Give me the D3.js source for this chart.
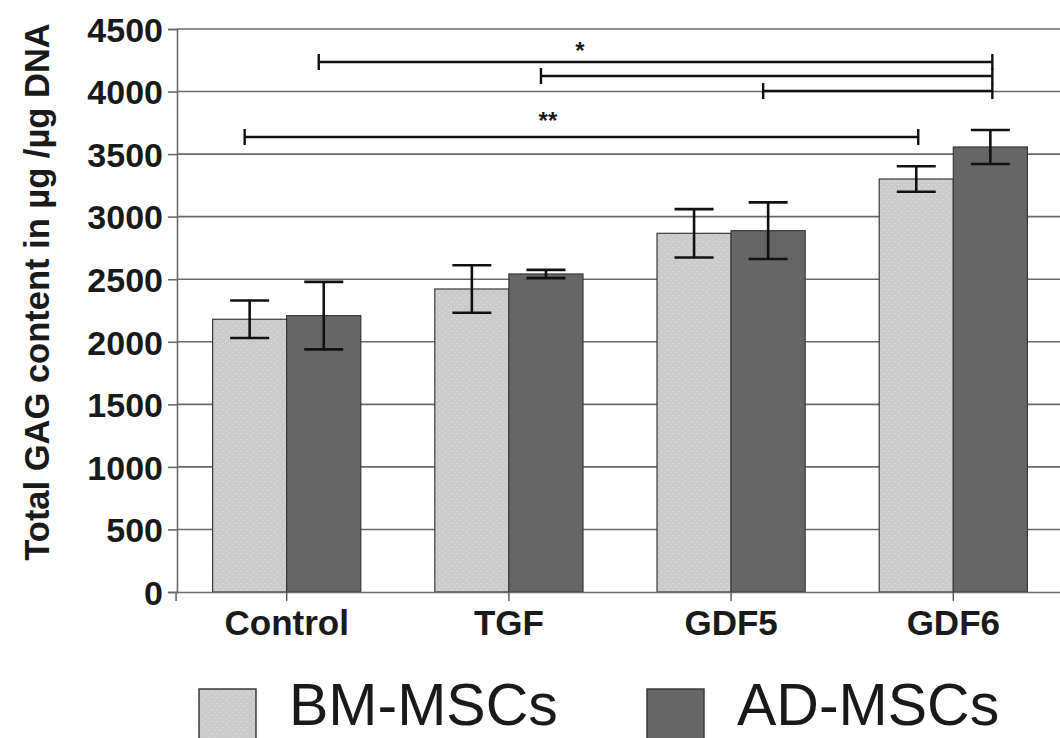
<!DOCTYPE html>
<html>
<head>
<meta charset="utf-8">
<script src="https://cdn.jsdelivr.net/npm/d3@7"></script>
<style>
  body { margin: 0; background: #fff; }
  svg { display: block; font-family: "Liberation Sans", Arial, sans-serif; }
</style>
</head>
<body>
<svg id="chart" width="1060" height="738"></svg>
<script>
// data
const categories = ["Control", "TGF", "GDF5", "GDF6"];
const seriesNames = ["BM-MSCs", "AD-MSCs"];
const bmMeans = [2180, 2422, 2867, 3301];
const bmErrors = [150, 190, 193, 102];
const adMeans = [2209, 2542, 2888, 3557];
const adErrors = [270, 33, 226, 136];
const yTicks = [0, 500, 1000, 1500, 2000, 2500, 3000, 3500, 4000, 4500];

// significance brackets: from [category, series] to [category, series] at a y value
const brackets = [
    { from: ["Control", "AD-MSCs"], to: ["GDF6", "AD-MSCs"], y: 4236 },
    { from: ["TGF", "AD-MSCs"], to: ["GDF6", "AD-MSCs"], y: 4124 },
    { from: ["GDF5", "AD-MSCs"], to: ["GDF6", "AD-MSCs"], y: 4004 },
    { from: ["Control", "BM-MSCs"], to: ["GDF6", "BM-MSCs"], y: 3637 }
];
const stars = [
    { label: "*", at: "TGF", dx: 34, y: 4310 },
    { label: "**", at: "TGF", dx: 2, y: 3750 }
];

const colors = { "BM-MSCs": "#cbcbcb", "AD-MSCs": "#666666" };

const svg = d3.select("#chart");

// stippled fill for the light bars
const defs = svg.append("defs");
const pat = defs.append("pattern")
    .attr("id", "stipple")
    .attr("patternUnits", "userSpaceOnUse")
    .attr("width", 6).attr("height", 6);
pat.append("rect").attr("width", 6).attr("height", 6).attr("fill", colors["BM-MSCs"]);
pat.append("circle").attr("cx", 1.5).attr("cy", 1.5).attr("r", 0.6).attr("fill", "#e6e6e6");
pat.append("circle").attr("cx", 4.5).attr("cy", 4.5).attr("r", 0.6).attr("fill", "#e2e2e2");

const fillFor = s => s === "BM-MSCs" ? "url(#stipple)" : colors[s];

const x0 = d3.scaleBand().domain(categories).range([175.6, 1064.4]).padding(0);
const x1 = d3.scaleBand().domain(seriesNames).range([37, x0.bandwidth() - 37]).padding(0);
const y = d3.scaleLinear().domain([0, 4500]).range([592, 29]);

const cx = (cat, s) => x0(cat) + x1(s) + x1.bandwidth() / 2;

// gridlines
svg.append("g")
    .selectAll("line")
    .data(yTicks.filter(d => d > 0))
    .join("line")
    .attr("x1", 177).attr("x2", 1060)
    .attr("y1", d => y(d)).attr("y2", d => y(d))
    .attr("stroke", "#6a6a6a").attr("stroke-width", 1.6);

// y axis
const yAxis = svg.append("g")
    .attr("transform", "translate(177,0)")
    .call(d3.axisLeft(y).tickValues(yTicks).tickSize(9).tickPadding(5).tickFormat(d3.format("d")));
yAxis.select(".domain").attr("stroke", "#6a6a6a").attr("stroke-width", 1.6);
yAxis.selectAll(".tick line").attr("stroke", "#6a6a6a").attr("stroke-width", 1.6);
yAxis.selectAll(".tick text")
    .attr("fill", "#1a1a1a")
    .style("font-size", "34px").style("font-weight", "bold")
    .attr("dy", "0.36em");

// bars
const rows = categories.map((c, i) => [
    { cat: c, s: "BM-MSCs", v: bmMeans[i], e: bmErrors[i] },
    { cat: c, s: "AD-MSCs", v: adMeans[i], e: adErrors[i] }
]).flat();

svg.append("g")
    .selectAll("rect")
    .data(rows)
    .join("rect")
    .attr("x", d => x0(d.cat) + x1(d.s))
    .attr("y", d => y(d.v))
    .attr("width", x1.bandwidth())
    .attr("height", d => y(0) - y(d.v))
    .attr("fill", d => fillFor(d.s))
    .attr("stroke", "#3a3a3a").attr("stroke-width", 1.2);

// x axis
const xAxis = svg.append("g")
    .attr("transform", "translate(0,592)")
    .call(d3.axisBottom(x0).tickSize(9).tickPadding(9));
xAxis.select(".domain").attr("stroke", "#6a6a6a").attr("stroke-width", 1.6);
xAxis.selectAll(".tick line").attr("stroke", "#555").attr("stroke-width", 1.4);
xAxis.selectAll(".tick text")
    .attr("fill", "#1a1a1a")
    .style("font-size", "35px").style("font-weight", "bold");

// error bars
const capW = 39;
const err = svg.append("g").attr("stroke", "#111").attr("stroke-width", 2.6);
rows.forEach(d => {
    const c = cx(d.cat, d.s);
    err.append("line").attr("x1", c).attr("x2", c).attr("y1", y(d.v + d.e)).attr("y2", y(d.v - d.e));
    err.append("line").attr("x1", c - capW / 2).attr("x2", c + capW / 2).attr("y1", y(d.v + d.e)).attr("y2", y(d.v + d.e));
    err.append("line").attr("x1", c - capW / 2).attr("x2", c + capW / 2).attr("y1", y(d.v - d.e)).attr("y2", y(d.v - d.e));
});

// significance brackets
const sig = svg.append("g").attr("stroke", "#111").attr("stroke-width", 2.4);
brackets.forEach(b => {
    const xa = cx(b.from[0], b.from[1]) - 5;
    const xb = cx(b.to[0], b.to[1]) + 2;
    const yy = y(b.y);
    sig.append("line").attr("x1", xa).attr("x2", xb).attr("y1", yy).attr("y2", yy);
    sig.append("line").attr("x1", xa).attr("x2", xa).attr("y1", yy - 8).attr("y2", yy + 8);
    sig.append("line").attr("x1", xb).attr("x2", xb).attr("y1", yy - 8).attr("y2", yy + 8);
});

svg.append("g")
    .selectAll("text")
    .data(stars)
    .join("text")
    .attr("x", d => cx(d.at, "AD-MSCs") + d.dx)
    .attr("y", d => y(d.y))
    .attr("text-anchor", "middle")
    .attr("dominant-baseline", "middle")
    .attr("fill", "#1a1a1a")
    .style("font-size", "24px").style("font-weight", "bold")
    .text(d => d.label);

// y axis title
svg.append("text")
    .attr("transform", "translate(49,292) rotate(-90)")
    .attr("text-anchor", "middle")
    .attr("fill", "#1a1a1a")
    .style("font-size", "34.5px").style("font-weight", "bold")
    .text("Total GAG content in µg /µg DNA");

// legend
const legendX = [199, 647];
const leg = svg.append("g");
seriesNames.forEach((s, i) => {
    leg.append("rect")
        .attr("x", legendX[i]).attr("y", 689)
        .attr("width", 57).attr("height", 57)
        .attr("fill", fillFor(s))
        .attr("stroke", "#3a3a3a").attr("stroke-width", 1.5);
    leg.append("text")
        .attr("x", legendX[i] + 90).attr("y", 725)
        .attr("fill", "#1a1a1a")
        .style("font-size", "59px")
        .text(s);
});
</script>
</body>
</html>
